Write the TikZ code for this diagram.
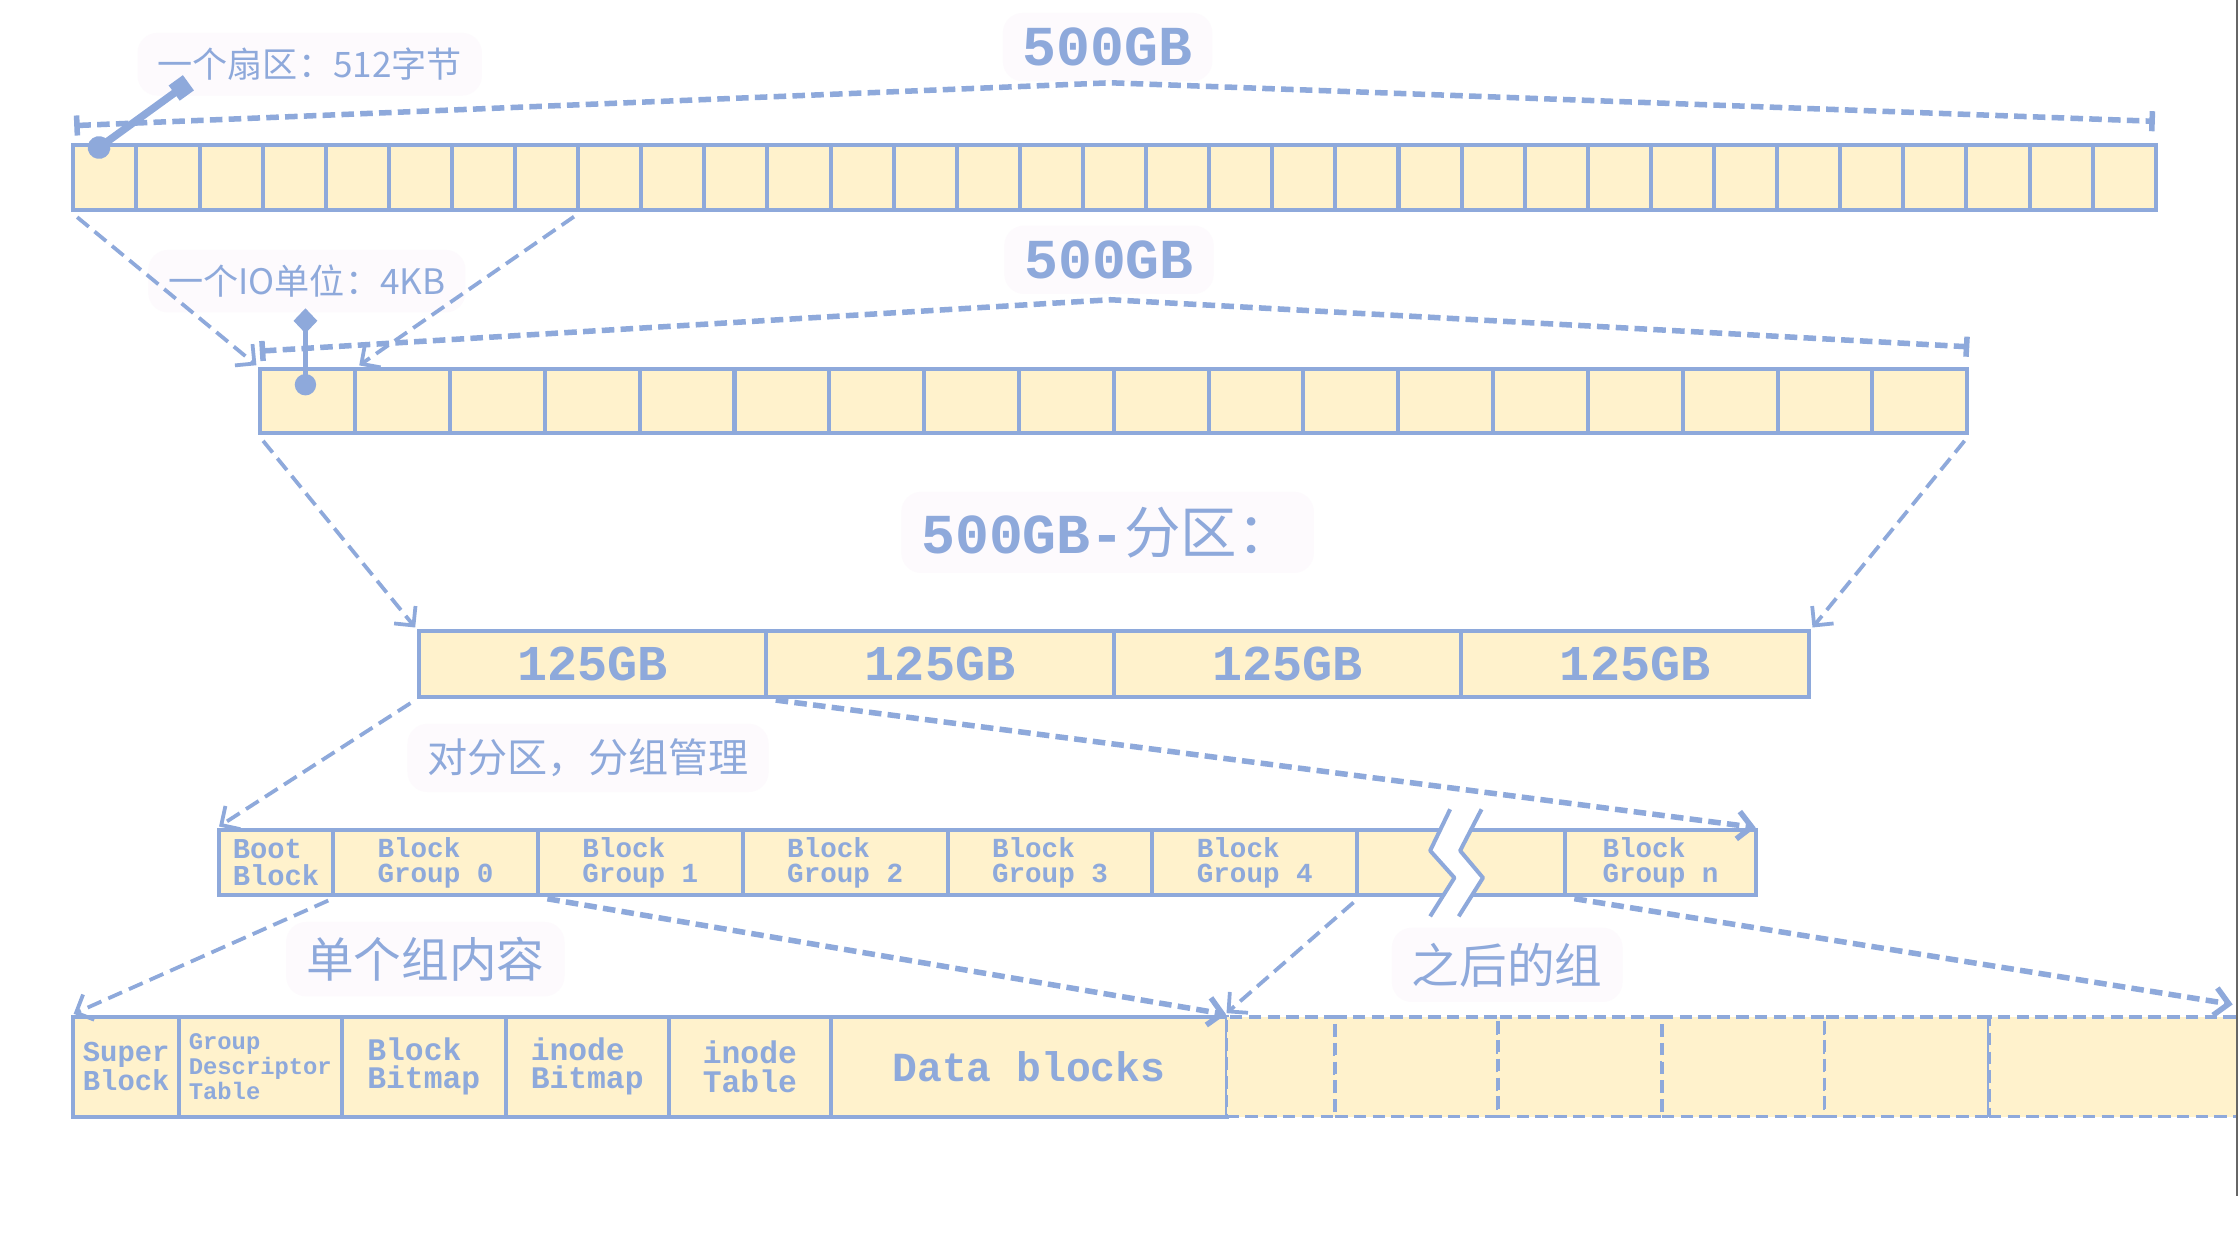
\documentclass[tikz,border=0pt]{standalone}
\usepackage{xcolor}
\usepackage{fontspec}
\usepackage{tikz}
\usetikzlibrary{arrows.meta,calc}
\setmainfont{Liberation Mono}
\newfontfamily\cjk{Noto Sans CJK SC}
\definecolor{lineblue}{HTML}{8EA9DB}
\definecolor{cellfill}{HTML}{FFF2CC}
\definecolor{tagbg}{HTML}{FDFAFD}

\tikzset{
  cell/.style={draw=lineblue, fill=cellfill, line width=1.6pt, anchor=north west,
    inner sep=0pt, text=lineblue, align=left, font=\bfseries\fontsize{11}{9.8}\selectfont},
  ghost/.style={cell, line width=1.5pt, dash pattern=on 5pt off 2.5pt},
  tag/.style={fill=tagbg, rounded corners=8pt, text=lineblue, inner xsep=8pt, inner ysep=6pt},
  link/.style={draw=lineblue, line width=1.5pt, dash pattern=on 6pt off 3pt,
    shorten <=3pt, shorten >=1pt, -{Straight Barb[length=5.5pt,width=11pt]}},
  biglink/.style={link, line width=2.2pt, dash pattern=on 5pt off 2.5pt},
  span/.style={draw=lineblue, line width=2.2pt, dash pattern=on 5pt off 2.5pt,
    {Bar[width=8pt]}-{Bar[width=8pt]}},
  pointer/.style={draw=lineblue, fill=lineblue}
}

\begin{document}
\begin{tikzpicture}[x=0.02cm, y=-0.02cm]
\clip (0,0) rectangle (1568,879);
\fill[white] (0,0) rectangle (1568,879);

\foreach \i in {1,...,33}
  \node[cell, minimum width=0.8842cm, minimum height=0.92cm] (s\i) at ({50+(\i-1)*44.21},100) {};
\foreach \i in {1,...,18}
  \node[cell, minimum width=1.3289cm, minimum height=0.9cm] (u\i) at ({181+(\i-1)*66.44},257) {};
\foreach \i in {1,...,4}
  \node[cell, minimum width=4.87cm, minimum height=0.92cm, font=\bfseries\fontsize{20}{22}\selectfont]
    (p\i) at ({292+(\i-1)*243.5},441) {125GB};

\node[cell, minimum width=1.6cm, minimum height=0.92cm, font=\bfseries\fontsize{11.5}{11}\selectfont]
  (boot) at (152,580) {Boot\\Block};
\foreach \i in {0,...,4}
  \node[cell, minimum width=2.87cm, minimum height=0.92cm] (bg\i) at ({232+\i*143.5},580) {Block\\Group \i};
\node[cell, minimum width=2.91cm, minimum height=0.92cm] (gap) at (949.5,580) {};
\node[cell, minimum width=2.68cm, minimum height=0.92cm] (gn) at (1095,580) {Block\\Group n};

\fill[white] (1016,567) -- (1002,596) -- (1019,615) -- (1002,642) -- (1022,642) -- (1039,615)
  -- (1023,596) -- (1038,567) -- cycle;
\draw[lineblue, line width=1.6pt, line join=round] (1016,567) -- (1002,596) -- (1019,615) -- (1002,642);
\draw[lineblue, line width=1.6pt, line join=round] (1038,567) -- (1023,596) -- (1039,615) -- (1022,642);

\node[cell, minimum width=1.48cm, minimum height=1.4cm, font=\bfseries\fontsize{11.5}{10.5}\selectfont]
  (sb) at (50,711) {Super\\Block};
\node[cell, minimum width=2.28cm, minimum height=1.4cm, font=\bfseries\fontsize{9.5}{8.4}\selectfont]
  (gdt) at (124,711) {Group\\Descriptor\\Table};
\node[cell, minimum width=2.3cm, minimum height=1.4cm, font=\bfseries\fontsize{12.5}{11.2}\selectfont]
  (bbm) at (238,711) {Block\\Bitmap};
\node[cell, minimum width=2.28cm, minimum height=1.4cm, font=\bfseries\fontsize{12.5}{11.2}\selectfont]
  (ibm) at (353,711) {inode\\Bitmap};
\node[cell, minimum width=2.28cm, minimum height=1.4cm, font=\bfseries\fontsize{12.5}{11.2}\selectfont]
  (itab) at (467,711) {inode\\Table};
\node[cell, minimum width=5.54cm, minimum height=1.4cm, font=\bfseries\fontsize{16.5}{18}\selectfont]
  (data) at (581,711) {Data blocks};
\foreach \x/\w [count=\i] in {858/76,934/114,1048/115,1163/114,1277/115,1392/190}
  \node[ghost, minimum width=\w*0.02cm, minimum height=1.4cm] (d\i) at (\x,711) {};

\node[tag, font=\bfseries\fontsize{22.5}{24}\selectfont] (t1) at (776,33) {500GB};
\node[tag, font=\bfseries\fontsize{22.5}{24}\selectfont] (t2) at (777,182) {500GB};
\node[tag, font=\cjk\fontsize{14}{16}\selectfont] (l1) at (217,45) {一个扇区：512字节};
\node[tag, font=\cjk\fontsize{14}{16}\selectfont] (l2) at (215,197) {一个IO单位：4KB};
\node[tag, font=\bfseries\fontsize{22.5}{24}\selectfont] (l3) at (776,373) {500GB-{\cjk\mdseries 分区：}};
\node[tag, font=\cjk\fontsize{16}{18}\selectfont] (l4) at (412,531) {对分区，分组管理};
\node[tag, font=\cjk\fontsize{19}{21}\selectfont] (l5) at (298,672) {单个组内容};
\node[tag, font=\cjk\fontsize{19}{21}\selectfont] (l6) at (1056,676) {之后的组};

\coordinate (top1) at (778,58);
\coordinate (top2) at (778,210);
\draw[span] ($(s1.north west)+(2,-12)$) -- (top1) -- ($(s33.north east)+(-2,-15)$);
\draw[span] ($(u1.north west)+(1,-11)$) -- (top2) -- ($(u18.north east)+(0,-14)$);

\coordinate (sdot) at (63,108);
\coordinate (stip) at (132,58);
\coordinate (udot) at (214,277);
\coordinate (utip) at (214,216);
\draw[pointer, line width=3pt, {Circle[length=9pt]}-{Square[length=7pt,width=7.5pt]}] (sdot) -- (stip);
\draw[pointer, line width=2pt, {Circle[length=8.5pt]}-{Diamond[length=10pt,width=9.5pt]}] (udot) -- (utip);

\draw[link] (s1.south west) -- (u1.north west);
\draw[link] (s8.south east) -- (u1.north east);
\draw[link] (u1.south west) -- (p1.north west);
\draw[link] (u18.south east) -- (p4.north east);
\draw[link] (p1.south west) -- (boot.north west);
\draw[biglink] (p1.south east) -- (gn.north east);
\draw[link] (boot.south east) -- (sb.north west);
\draw[biglink] (bg0.south east) -- (data.north east);
\draw[link] (bg4.south east) -- (d1.north west);
\coordinate (edge) at (1566,704);
\draw[biglink] (gap.south east) -- (edge);

\draw[black!60, line width=0.6pt] (1567.3,0) -- (1567.3,838);
\end{tikzpicture}
\end{document}
